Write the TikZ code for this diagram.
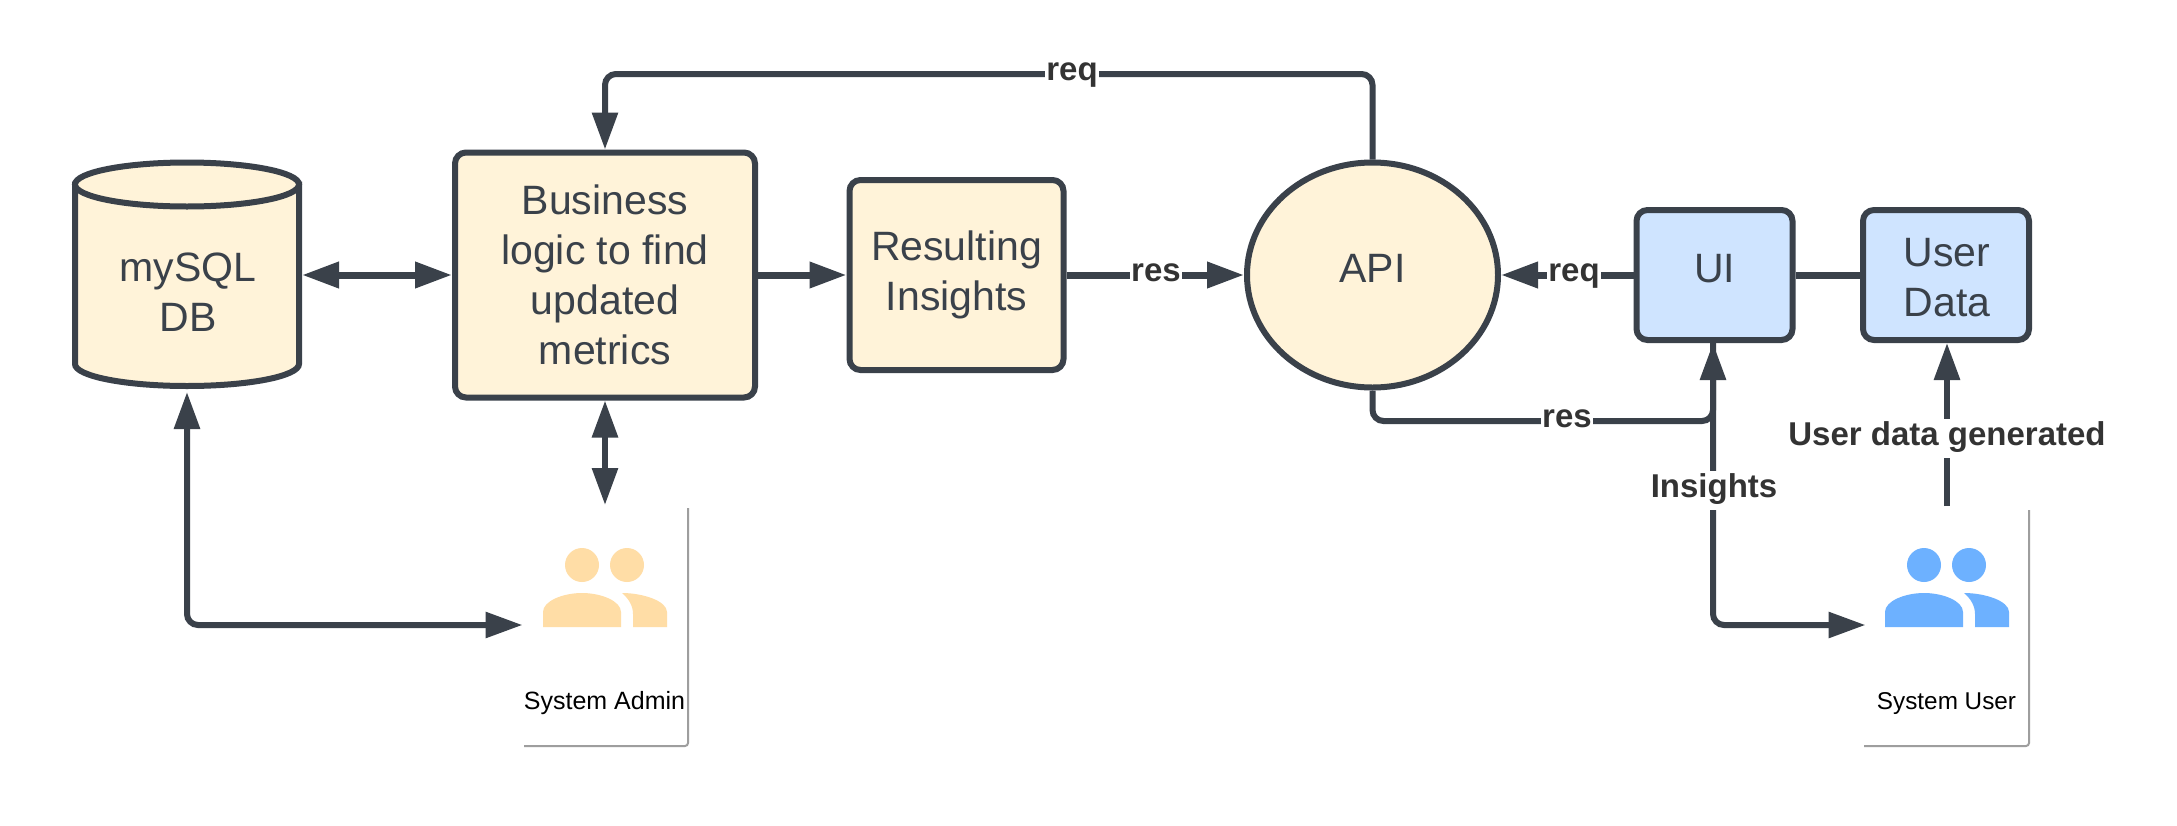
\documentclass[tikz,border=0pt]{standalone}
\usepackage{fontspec}
\setmainfont{Liberation Sans}
\usetikzlibrary{arrows.meta,shapes.geometric}
\definecolor{ink}{HTML}{3A414A}
\definecolor{labelink}{HTML}{333333}
\definecolor{cream}{HTML}{FFF3D9}
\definecolor{skyfill}{HTML}{CFE4FF}
\definecolor{peach}{HTML}{FFDDA6}
\definecolor{bluep}{HTML}{6DB1FF}
\definecolor{cardgrey}{HTML}{9E9E9E}
\tikzset{
  x=1pt,y=-1pt,
  box/.style={draw=ink,line width=6pt,rounded corners=11pt,inner sep=0pt,align=center,text=ink,
    font=\fontsize{41}{50}\selectfont},
  creambox/.style={box,fill=cream},
  bluebox/.style={box,fill=skyfill},
  conn/.style={draw=ink,line width=6pt,rounded corners=11pt},
  thickconn/.style={conn,line width=7pt},
  head/.style={-{Triangle[length=37pt,width=25pt]}},
  both/.style={{Triangle[length=37pt,width=25pt]}-{Triangle[length=37pt,width=25pt]}},
  lbl/.style={fill=white,text=labelink,font=\fontsize{33}{38}\selectfont\bfseries,anchor=base,
    inner xsep=1pt,inner ysep=0pt,text height=26pt,text depth=13pt},
  cardtext/.style={text=black,font=\fontsize{25}{29}\selectfont,anchor=base,inner sep=0pt},
  cardline/.style={draw=cardgrey,line width=2pt,rounded corners=3pt},
  card/.style={inner sep=0pt,outer sep=0pt},
}
\newcommand{\peopleicon}[2]{%
  \begin{scope}[shift={(#1,0)}]
    \fill[#2] (39,565) circle[radius=17];
    \fill[#2] (84,565) circle[radius=17];
    \fill[#2] (0,627) -- (0,612) .. controls (0,601) and (20,593) .. (39,593)
      .. controls (58,593) and (78,601) .. (78,612) -- (78,627) -- cycle;
    \fill[#2] (79,593) .. controls (100,593) and (124,601) .. (124,612) -- (124,627) -- (90,627)
      -- (90,614) .. controls (90,606) and (86,599) .. (79,593) -- cycle;
  \end{scope}}
\begin{document}
\begin{tikzpicture}
\useasboundingbox[fill=white] (0,0) rectangle (2177,825);

% cards
\node (admin) [card,minimum width=165pt,minimum height=238pt] at (606,627) {};
\draw[cardline] (688,508) -- (688,746) -- (524,746);
\peopleicon{543}{peach}
\node (admintext) [cardtext] at (604.5,709) {System Admin};

\node (suser) [card,minimum width=165pt,minimum height=236pt] at (1946.5,628) {};
\draw[cardline] (2029,510) -- (2029,746) -- (1864,746);
\peopleicon{1885}{bluep}
\node (usertext) [cardtext,font=\fontsize{24.3}{29}\selectfont] at (1946.5,709) {System User};

% database
\node (db) [inner sep=0pt,outer sep=0pt,minimum width=230pt,minimum height=229pt] at (187,275) {};
\draw[draw=ink,fill=cream,line width=6pt] (75,184.5) -- (75,364)
  arc[start angle=180,end angle=0,x radius=112,y radius=22] -- (299,184.5) -- cycle;
\draw[draw=ink,fill=cream,line width=6pt] (187,184.5) ellipse[x radius=112,y radius=22];
\node (dbtext) [inner sep=0pt,align=center,text=ink,font=\fontsize{41}{50}\selectfont] at (188,292) {mySQL\\DB};

% boxes
\node (biz) [creambox,minimum width=300pt,minimum height=245pt] at (605,275) {Business\\logic to find\\updated\\metrics};
\node (result) [creambox,minimum width=214pt,minimum height=190pt] at (956.5,275) {Resulting\\Insights};
\node (api) [ellipse,draw=ink,fill=cream,line width=6pt,inner sep=0pt,text=ink,
  font=\fontsize{41}{50}\selectfont,text height=29pt,text depth=14pt,
  minimum width=251pt,minimum height=225pt] at (1372.5,275) {API};
\node (ui) [bluebox,minimum width=156pt,minimum height=130pt,text height=29pt,text depth=14pt] at (1714.5,275) {UI};
\node (udata) [bluebox,minimum width=166pt,minimum height=130pt] at (1946,275) {};
\node (udatatext) [inner sep=0pt,align=center,text=ink,font=\fontsize{41}{50}\selectfont] at (1947,278) {User\\Data};

% helper coordinates
\coordinate (topbend) at (1000,74);
\coordinate (resbend) at (1500,421);
\coordinate (uibottom) at (1713,343);
\coordinate (userin) at (1865.5,625);
\coordinate (adminin) at (522.5,625);
\coordinate (adminup) at (605,505);
\coordinate (dbbottom) at (187,392);
\coordinate (userup) at (1947,506);
\coordinate (udatabottom) at (1947,343);

% connectors
\draw[thickconn,both] (db.east) -- (biz.west);
\draw[conn,both] (biz.south) -- (adminup);
\draw[conn,both] (dbbottom) |- (adminin);
\draw[thickconn,head] (biz.east) -- (result.west);
\draw[thickconn,head] (result.east) -- (api.west);
\draw[thickconn,head] (ui.west) -- (api.east);
\draw[thickconn] (ui.east) -- (udata.west);
\draw[conn,head] (api.north) |- (topbend) -| (biz.north);
\draw[conn] (api.south) |- (resbend) -| (uibottom);
\draw[conn,both] (uibottom) |- (userin);
\draw[conn,head] (userup) -- (udatabottom);

% labels
\node (lreqtop) [lbl] at (1072,80) {req};
\node (lresmid) [lbl] at (1156,281) {res};
\node (lreqmid) [lbl] at (1574,281) {req};
\node (lresbot) [lbl] at (1567,427) {res};
\node (linsights) [lbl] at (1714,497) {Insights};
\node (lgenerated) [lbl] at (1947,445) {User data generated};
\end{tikzpicture}
\end{document}
